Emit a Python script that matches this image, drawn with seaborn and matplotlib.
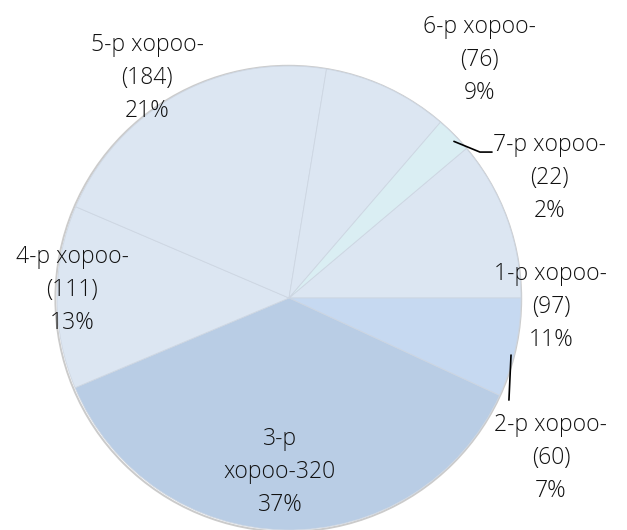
import numpy as np
import matplotlib
matplotlib.use("Agg")
import matplotlib.pyplot as plt
import seaborn as sns

# Data
districts = ["1-р хороо-", "2-р хороо-", "3-р\nхороо-", "4-р хороо-", "5-р хороо-", "6-р хороо-", "7-р хороо-"]
counts = [97, 60, 320, 111, 184, 76, 22]
pct_labels = ["11%", "7%", "37%", "13%", "21%", "9%", "2%"]
colors = ["#DCE6F2", "#C6D9F1", "#B9CDE5", "#DCE6F2", "#DCE6F2", "#DCE6F2", "#DAEEF3"]

sns.set_theme(style="white")
plt.rcParams['font.family'] = ['Open Sans', 'DejaVu Sans']

W, H = 627, 530
cx, cy, R = 289, 298, 232

fig = plt.figure(figsize=(W / 100, H / 100), dpi=100)
ax = fig.add_axes([0, 0, 1, 1])

total = sum(counts)
start = 360 * counts[0] / total

# faint shadow ring round the pie
ring = plt.Circle((-0.003, -0.003), 1.004, facecolor="none", edgecolor="#cbcbcb", linewidth=1.4, zorder=0)
ax.add_patch(ring)

wedges, _ = ax.pie(counts, colors=colors, startangle=start, counterclock=False,
                   radius=1, wedgeprops=dict(edgecolor="#cdd6e2", linewidth=0.6))

# label positions in pie units (layout only)
label_pos = [(1.129, -0.039), (1.129, -0.690), (-0.039, -0.750), (-0.935, 0.034),
             (-0.612, 0.948), (0.819, 1.026), (1.121, 0.517)]

for i, (name, n) in enumerate(zip(districts, counts)):
    if "\n" in name:
        txt = f"{name}{n}\n{pct_labels[i]}"
    else:
        txt = f"{name}\n({n})\n{pct_labels[i]}"
    x, y = label_pos[i]
    ax.text(x, y, txt, ha="center", va="center", fontsize=16.5, fontweight="light",
            color="#111111", linespacing=1.5)

# leader lines for the thin slices
def mid_angle(w):
    return np.deg2rad((w.theta1 + w.theta2) / 2)

a7 = mid_angle(wedges[6])
p0 = (1.0 * np.cos(a7), 0.96 * np.sin(a7))
ax.plot([p0[0], 0.823, 0.875], [p0[1], 0.629, 0.629], color="black", linewidth=1.2)

ax.plot([0.957, 0.948], [-0.246, -0.44], color="black", linewidth=1.2)

ax.set_xlim(-cx / R, (W - cx) / R)
ax.set_ylim(-(H - cy) / R, cy / R)
ax.set_aspect("equal")
ax.axis("off")

fig.savefig("out.png", dpi=100, facecolor="white")
